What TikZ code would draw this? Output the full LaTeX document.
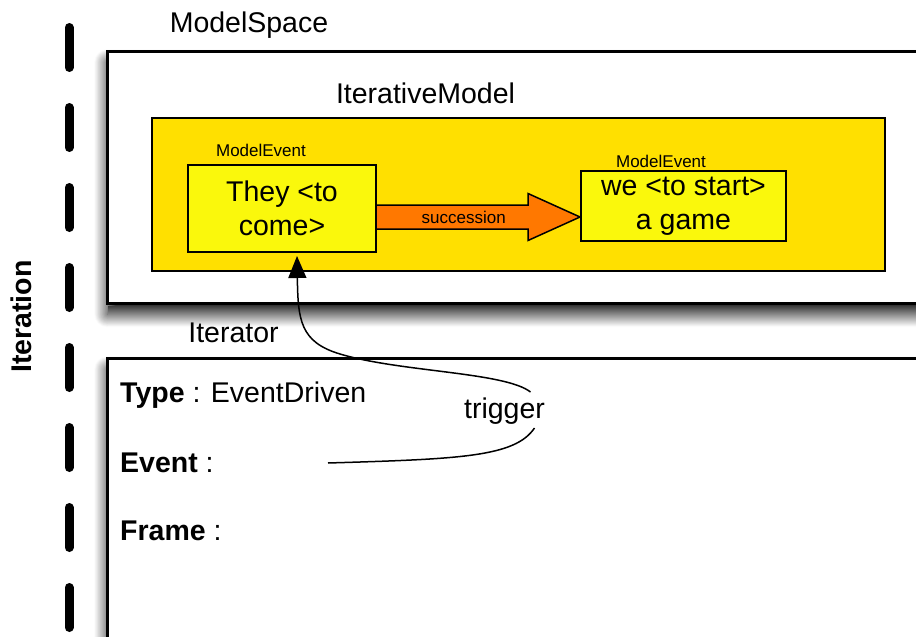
\documentclass[tikz,border=0pt]{standalone}
\usepackage{fontspec}
\setmainfont{Liberation Sans}
\usetikzlibrary{arrows.meta,calc,shadows.blur}
\definecolor{modelgold}{RGB}{255,224,0}
\definecolor{eventyellow}{RGB}{250,248,12}
\definecolor{succorange}{RGB}{255,120,0}
\tikzset{
  bigtext/.style={font=\fontsize{28.5}{34}\selectfont},
  smalltext/.style={font=\fontsize{17}{20}\selectfont},
  spacebox/.style={rectangle, draw=black, line width=2.5pt, fill=white, inner sep=0pt, anchor=north west,
    blur shadow={shadow xshift=0pt, shadow yshift=-11pt, shadow blur radius=13pt, shadow blur steps=16, shadow opacity=95}},
  modelbox/.style={rectangle, draw=black, line width=1.8pt, fill=modelgold, inner sep=0pt, anchor=north west},
  eventbox/.style={rectangle, draw=black, line width=2pt, fill=eventyellow, inner sep=0pt, align=center, bigtext},
  succarrow/.style={draw=black, line width=1.5pt, fill=succorange, line join=miter},
  iterline/.style={line width=9pt, line cap=round, dash pattern=on 40pt off 40pt}
}
\begin{document}
\begin{tikzpicture}[x=1pt,y=-1pt]
      \useasboundingbox (0,0) rectangle (916,637);

      % iteration axis
      \draw[iterline] (69,27.5) -- (69,680);
      \node[rotate=90, font=\fontsize{28.5}{34}\selectfont\bfseries] (iter) at (21.5,316.5) {Iteration};

      % model space
      \node[spacebox, minimum width=860pt, minimum height=252pt] (space) at (106,50) {};
      \shade[top color=black!75, bottom color=white] ($(space.south west)+(2,1.5)$) rectangle ($(space.south east)+(0,22)$);
      \node[bigtext] (spacelbl) at (249,25) {ModelSpace};

      \node[modelbox, minimum width=733pt, minimum height=153pt] (model) at (151,117) {};
      \node[bigtext] (modellbl) at (425.5,93.5) {IterativeModel};

      \node[eventbox, minimum width=188pt, minimum height=87pt] (ev1) at (282,208.5) {They <to\\come>};
      \node[smalltext] (ev1lbl) at (261,150.5) {ModelEvent};
      \node[eventbox, minimum width=205pt, minimum height=70pt] (ev2) at (683.5,206) {we <to start>\\a game};
      \node[smalltext] (ev2lbl) at (661,161.5) {ModelEvent};

      % succession arrow
      \coordinate (sline) at (0,217);
      \coordinate (s0) at (ev1.east |- sline);
      \coordinate (s1) at (ev2.west |- sline);
      \draw[succarrow] ($(s0)+(0,-12)$) -- ($(s1)+(-52,-12)$) -- ($(s1)+(-52,-23.5)$) -- (s1)
        -- ($(s1)+(-52,23.5)$) -- ($(s1)+(-52,12)$) -- ($(s0)+(0,12)$);
      \node[smalltext] (succ) at ($(s0)!0.427!(s1)$) {succession};

      % iterator
      \node[spacebox, minimum width=860pt, minimum height=281pt] (itbox) at (106,357) {};
      \node[bigtext] (itlbl) at (233.5,332.5) {Iterator};

      \node[bigtext, anchor=base west, inner sep=0pt] (type) at (120,402) {\textbf{Type} : EventDriven};
      \node[bigtext, anchor=base west, inner sep=0pt] (event) at (120,472) {\textbf{Event} :};
      \node[bigtext, anchor=base west, inner sep=0pt] (frame) at (120,540) {\textbf{Frame} :};

      % trigger
      \coordinate (evslot) at (328,463);
      \node[bigtext, anchor=base] (trig) at (504.5,418) {trigger};
      \draw[line width=1.5pt] (evslot) .. controls (460,459) and (515,457) .. ($(trig.base)+(30,10)$);
      %\draw[line width=1.5pt] (trig.north east) -- (ev1.south);
      \draw[line width=1.5pt,-{Triangle[length=22pt,width=18pt]}] ($(trig.base)+(26,-26)$)
        .. controls (505,372) and (400,372) .. (340,354)
        .. controls (300,342) and (298,320) .. ([xshift=15pt,yshift=-3pt]ev1.south);
  \end{tikzpicture}
\end{document}
